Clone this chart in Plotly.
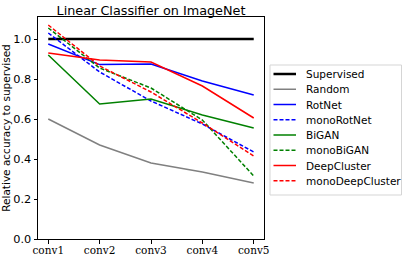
import plotly.graph_objects as go

layers = ["conv1", "conv2", "conv3", "conv4", "conv5"]
supervised = [1.0, 1.0, 1.0, 1.0, 1.0]
random_init = [0.60, 0.47, 0.38, 0.335, 0.28]
rotnet = [0.975, 0.872, 0.875, 0.79, 0.72]
mono_rotnet = [1.03, 0.835, 0.69, 0.575, 0.435]
bigan = [0.92, 0.675, 0.70, 0.62, 0.555]
mono_bigan = [1.055, 0.855, 0.755, 0.595, 0.315]
deepcluster = [0.93, 0.895, 0.885, 0.765, 0.605]
mono_deepcluster = [1.07, 0.865, 0.735, 0.58, 0.415]

series = [
    ("Supervised", supervised, "#000000", "solid", 2.5),
    ("Random", random_init, "#808080", "solid", 1.5),
    ("RotNet", rotnet, "#0000ff", "solid", 1.5),
    ("monoRotNet", mono_rotnet, "#0000ff", "4px,2px", 1.5),
    ("BiGAN", bigan, "#008000", "solid", 1.5),
    ("monoBiGAN", mono_bigan, "#008000", "4px,2px", 1.5),
    ("DeepCluster", deepcluster, "#ff0000", "solid", 1.5),
    ("monoDeepCluster", mono_deepcluster, "#ff0000", "4px,2px", 1.5),
]

W, H = 407, 258
ML, MR, MT, MB = 38, 143, 17, 19
PW, PH = W - ML - MR, H - MT - MB


def px_x(p):
    return (p - ML) / PW


def px_y(p):
    return (H - MB - p) / PH


fig = go.Figure()
xs = list(range(len(layers)))
for name, vals, color, dash, w in series:
    fig.add_trace(go.Scatter(x=xs, y=vals, mode="lines", name=name,
                             line=dict(color=color, dash=dash, width=w),
                             showlegend=False))

# manual legend (matplotlib-like compact layout)
shapes = []
annotations = []
shapes.append(dict(type="rect", xref="paper", yref="paper",
                   x0=px_x(270), x1=px_x(401.5), y0=px_y(195), y1=px_y(65),
                   line=dict(color="#d5d5d5", width=1), fillcolor="white", layer="above"))
row0, step = 74, 15.25
for i, (name, vals, color, dash, w) in enumerate(series):
    yy = px_y(row0 + i * step)
    shapes.append(dict(type="line", xref="paper", yref="paper",
                       x0=px_x(273.5), x1=px_x(296), y0=yy, y1=yy,
                       line=dict(color=color, dash=dash, width=w), layer="above"))
    annotations.append(dict(text=name, xref="paper", yref="paper",
                            x=px_x(303.5), y=yy, xanchor="left", yanchor="middle",
                            showarrow=False, font=dict(size=10.5, family="DejaVu Sans", color="black")))

fig.update_layout(
    template="none",
    width=W, height=H,
    margin=dict(l=ML, r=MR, t=MT, b=MB, pad=0, autoexpand=False),
    paper_bgcolor="white", plot_bgcolor="white",
    font=dict(family="DejaVu Sans", size=12, color="black"),
    title=dict(text="Linear Classifier on ImageNet", x=0.5, xref="paper", xanchor="center",
               y=1 - 10.5 / H, yanchor="middle", yref="container",
               font=dict(size=12.8, family="DejaVu Sans")),
    showlegend=False,
    shapes=shapes, annotations=annotations,
)

fig.update_xaxes(
    range=[-0.2, 4.2], tickmode="array", tickvals=xs, ticktext=layers,
    showgrid=False, zeroline=False, showline=True, linecolor="black", automargin=False,
    linewidth=1, mirror=True, ticks="outside", ticklen=3.5, tickcolor="black",
    tickfont=dict(family="DejaVu Serif", size=10.5), ticklabelstandoff=-2,
)
fig.update_yaxes(
    range=[0, 1.11], tickmode="array", tickvals=[0, 0.2, 0.4, 0.6, 0.8, 1.0],
    ticktext=["0.0", "0.2", "0.4", "0.6", "0.8", "1.0"],
    showgrid=False, zeroline=False, showline=True, linecolor="black", automargin=False,
    linewidth=1, mirror=True, ticks="outside", ticklen=3.5, tickcolor="black",
    tickfont=dict(size=11.3),
    title=dict(text="Relative accuracy to supervised", font=dict(size=10.5), standoff=0),
)

fig.write_html("out.html", config={"displayModeBar": False},
               post_script="document.body.style.margin='0';document.body.style.padding='0';")
